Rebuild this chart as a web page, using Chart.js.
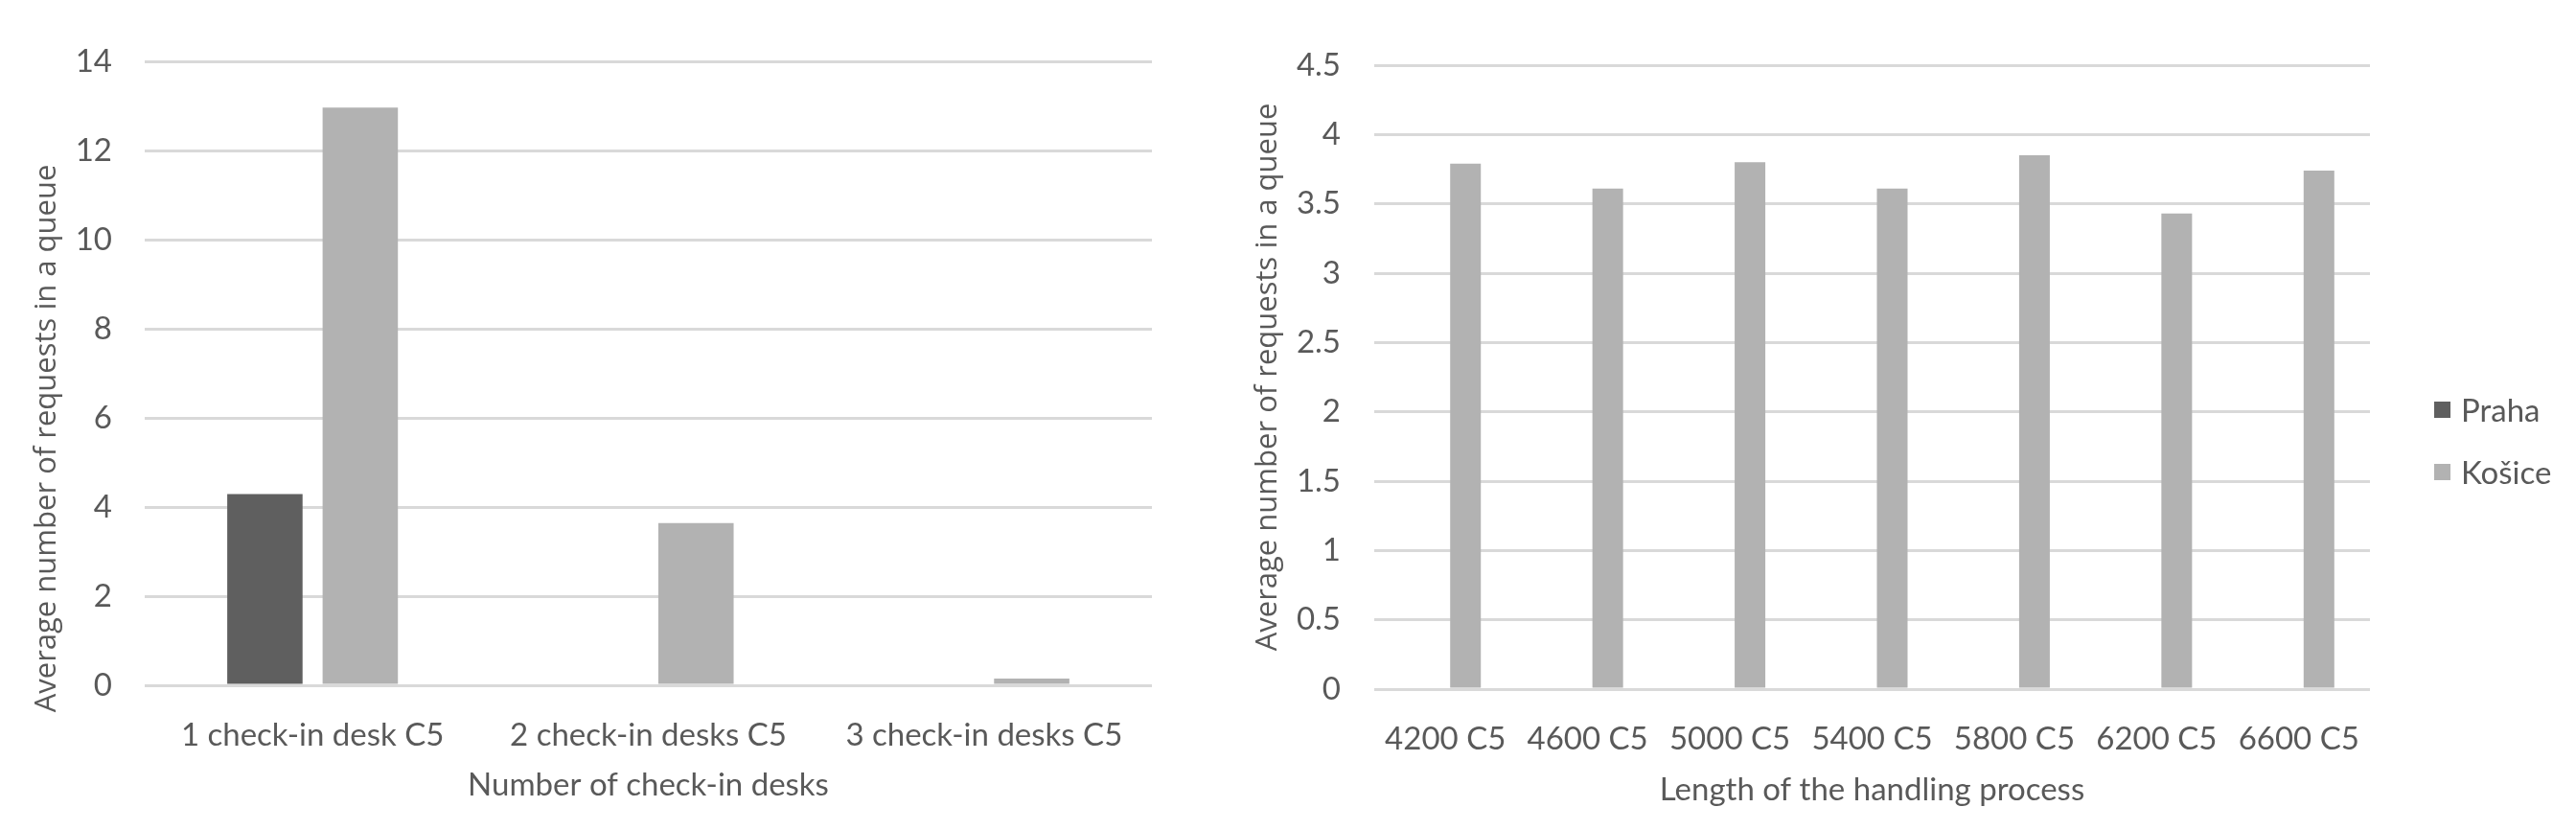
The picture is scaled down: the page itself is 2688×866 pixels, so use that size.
<!DOCTYPE html>
<html>
<head>
<meta charset="utf-8">
<script src="https://cdn.jsdelivr.net/npm/chart.js@4.4.1/dist/chart.umd.min.js"></script>
<style>
  html, body { margin: 0; background: #fff; }
  #wrap { position: relative; width: 2688px; height: 866px; overflow: hidden; }
  #left { position: absolute; left: 0; top: 0; }
  #right { position: absolute; left: 1290px; top: 0; }
  #legend { position: absolute; left: 2540px; top: 405px; font: 33px Lato, sans-serif; color: #595959; }
  #legend .item { display: flex; align-items: center; height: 44px; margin-bottom: 21px; }
  #legend .sw { width: 17px; height: 17px; margin-right: 11px; }
</style>
</head>
<body>
<div id="wrap">
  <canvas id="left" width="1290" height="866"></canvas>
  <canvas id="right" width="1398" height="866"></canvas>
  <div id="legend"></div>
</div>
<script>
const deskLabels = ['1 check-in desk C5', '2 check-in desks C5', '3 check-in desks C5'];
const deskPraha = [4.29, 0, 0];
const deskKosice = [12.96, 3.64, 0.15];

const lengthLabels = ['4200 C5', '4600 C5', '5000 C5', '5400 C5', '5800 C5', '6200 C5', '6600 C5'];
const lengthPraha = [0, 0, 0, 0, 0, 0, 0];
const lengthKosice = [3.79, 3.61, 3.80, 3.61, 3.85, 3.43, 3.74];

const seriesNames = ['Praha', 'Košice'];
const seriesColors = ['#5f5f5f', '#b2b2b2'];

const TEXT = '#595959';
const GRID = '#d9d9d9';
Chart.defaults.font.family = 'Lato, sans-serif';
Chart.defaults.font.size = 33;
Chart.defaults.color = TEXT;

// rotated y-axis title, drawn by hand so it can sit off-centre like the original
const yTitle = {
  id: 'yTitle',
  afterDraw(chart, args, opts) {
    const { ctx, chartArea } = chart;
    ctx.save();
    ctx.translate(opts.x, (chartArea.top + chartArea.bottom) / 2 + (opts.shift || 0));
    ctx.rotate(-Math.PI / 2);
    ctx.font = '31px "Open Sans", sans-serif';
    ctx.fillStyle = TEXT;
    ctx.textAlign = 'center';
    ctx.textBaseline = 'middle';
    ctx.fillText(opts.text, 0, 0);
    ctx.restore();
  }
};

function makeChart(id, labels, praha, kosice, cfg) {
  return new Chart(document.getElementById(id), {
    type: 'bar',
    plugins: [yTitle],
    data: {
      labels,
      datasets: [praha, kosice].map((d, i) => ({
        label: seriesNames[i],
        data: d,
        backgroundColor: seriesColors[i],
        borderWidth: 0,
        categoryPercentage: cfg.catPct,
        barPercentage: cfg.barPct,
      })),
    },
    options: {
      responsive: false,
      animation: false,
      layout: { padding: cfg.padding },
      plugins: {
        legend: { display: false },
        tooltip: { enabled: false },
        yTitle: { text: 'Average number of requests in a queue', x: cfg.titleX, shift: cfg.titleShift },
      },
      scales: {
        x: {
          grid: { display: false },
          border: { display: false },
          ticks: { padding: 25, maxRotation: 0, autoSkip: false },
          title: { display: true, text: cfg.xTitle, padding: { top: 0, bottom: cfg.xTitlePad } },
          afterFit(s) { s.height = cfg.xHeight; },
        },
        y: {
          min: 0,
          max: cfg.max,
          grid: { color: GRID, lineWidth: 3, drawTicks: false },
          border: { display: false },
          ticks: { stepSize: cfg.step, padding: cfg.tickPad, callback: v => String(v) },
          afterFit(s) { s.width = cfg.yWidth; },
        },
      },
    },
  });
}

makeChart('left', deskLabels, deskPraha, deskKosice, {
  catPct: 0.568, barPct: 0.79,
  padding: { left: 0, top: 64, right: 88, bottom: 0 },
  max: 14, step: 2, tickPad: 34, yWidth: 151, xHeight: 151, xTitlePad: 27,
  xTitle: 'Number of check-in desks', titleX: 49, titleShift: 68,
});

makeChart('right', lengthLabels, lengthPraha, lengthKosice, {
  catPct: 0.566, barPct: 0.762,
  padding: { left: 0, top: 68, right: 215, bottom: 0 },
  max: 4.5, step: 0.5, tickPad: 35, yWidth: 144, xHeight: 147, xTitlePad: 22,
  xTitle: 'Length of the handling process', titleX: 33, titleShift: 0,
});

const legend = document.getElementById('legend');
seriesNames.forEach((name, i) => {
  const item = document.createElement('div');
  item.className = 'item';
  const sw = document.createElement('span');
  sw.className = 'sw';
  sw.style.background = seriesColors[i];
  item.appendChild(sw);
  item.appendChild(document.createTextNode(name));
  legend.appendChild(item);
});
</script>
</body>
</html>
